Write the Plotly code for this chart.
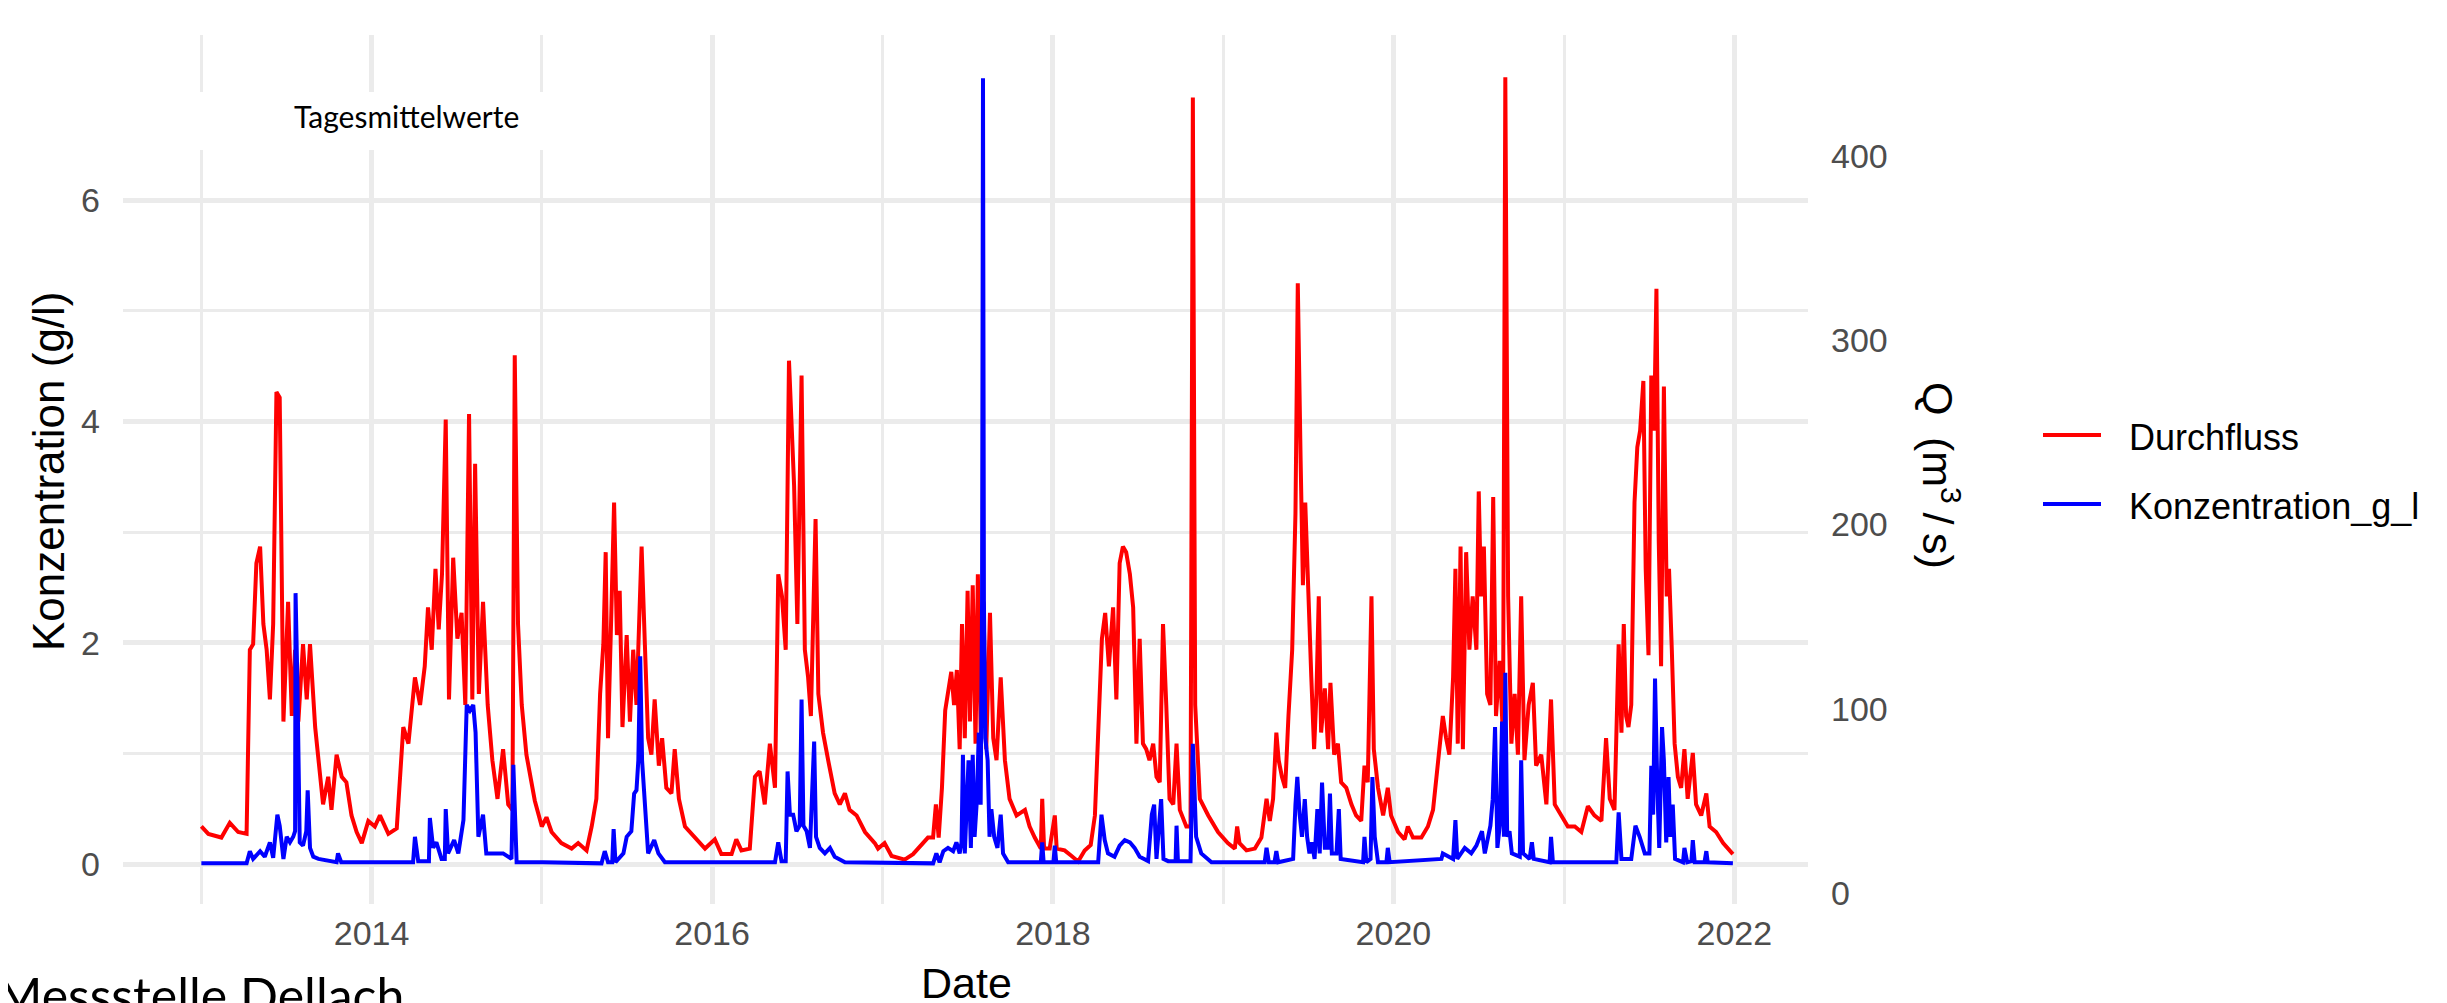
import pandas as pd
import plotly.graph_objects as go

# ---------------- data ----------------
START = "2013-01-01"

# Durchfluss Q (m3/s): day offset since 2013-01-01, value
q_day = [0, 15, 43, 61, 79, 97, 104, 111, 118, 126, 133, 140, 147, 154, 161, 168, 176, 186, 194, 201,
         208, 218, 226, 233, 244, 251, 261, 272, 279, 290, 301, 311, 322, 333, 344, 358, 372, 383, 401, 419,
         433, 444, 458, 469, 479, 486, 494, 502, 509, 516, 524, 531, 540, 549, 558, 566, 574, 581, 587, 595,
         604, 614, 624, 635, 647, 658, 667, 672, 679, 687, 697, 715,
         730, 740, 751, 772, 794, 808, 826, 837, 847, 855, 862, 867, 872, 880, 885, 891, 897, 903, 912, 919,
         926, 933, 944, 951, 958, 965, 972, 981, 988, 997, 1008, 1015, 1024, 1037, 1058, 1080, 1101, 1115,
         1137, 1147, 1158, 1176, 1187, 1197, 1208, 1219, 1230, 1237, 1245, 1253, 1260, 1265, 1271, 1278,
         1287, 1294, 1301, 1307, 1312, 1317, 1323, 1333, 1344, 1358, 1369, 1380, 1390, 1405, 1423, 1444,
         1451, 1465, 1480, 1494, 1508, 1526, 1544, 1558, 1569, 1575, 1581, 1588, 1595, 1603, 1608, 1614,
         1620, 1626, 1631, 1637, 1643, 1648, 1654, 1660, 1665, 1671, 1677, 1683, 1691, 1698, 1705, 1714,
         1723, 1733, 1748, 1766, 1776, 1787, 1800, 1803, 1807, 1819, 1830, 1834, 1851, 1866, 1880, 1894,
         1907, 1916, 1924, 1931, 1938, 1946, 1955, 1962, 1969, 1976, 1983, 1991, 1998, 2005, 2012, 2019,
         2026, 2033, 2041, 2048, 2055, 2062, 2069, 2076, 2084, 2091, 2098, 2112, 2121, 2126, 2131, 2141,
         2159, 2180, 2201, 2216, 2221, 2226, 2241, 2259, 2273, 2284, 2291, 2298, 2305, 2310, 2317, 2324,
         2331, 2339, 2346, 2351, 2357, 2362, 2367, 2373, 2380, 2386, 2391, 2396, 2401, 2409, 2416, 2421,
         2429, 2437, 2444, 2455, 2466, 2476, 2487, 2494, 2501, 2509, 2514, 2523, 2534, 2544, 2551, 2566,
         2580, 2587, 2598, 2616, 2630, 2641, 2651, 2662, 2669, 2676, 2684, 2689, 2694, 2700, 2705, 2712,
         2719, 2726, 2734, 2739, 2744, 2750, 2757, 2764, 2770, 2776, 2784, 2791, 2796, 2802, 2809, 2816,
         2823, 2830, 2837, 2846, 2855, 2862, 2873, 2884, 2894, 2902, 2916, 2930,
         2945, 2959, 2973, 2987, 3002, 3012, 3020, 3030, 3039, 3045, 3050, 3055, 3060, 3066, 3073, 3079,
         3085, 3092, 3097, 3103, 3109, 3115, 3120, 3125, 3130, 3136, 3142, 3147, 3153, 3159, 3166, 3173,
         3180, 3187, 3198, 3205, 3216, 3227, 3234, 3248, 3263, 3277, 3284]
q_val = [36, 32, 30, 38, 33, 32, 132, 135, 179, 188, 146, 132, 105, 146, 272, 269, 93, 158, 96, 132,
         93, 135, 105, 135, 90, 72, 48, 63, 45, 75, 63, 60, 42, 33, 27, 39, 36, 42, 32, 35,
         90, 81, 117, 102, 123, 155, 132, 176, 143, 173, 257, 105, 182, 138, 152, 102, 260, 105, 233, 108,
         158, 102, 72, 51, 78, 48, 45, 292, 146, 102, 75, 50,
         36, 41, 33, 27, 24, 27, 23, 36, 51, 108, 135, 185, 84, 161, 212, 140, 164, 90, 140, 93,
         132, 102, 188, 135, 84, 75, 105, 69, 84, 57, 54, 78, 51, 36, 30, 24, 29, 21,
         21, 29, 23, 24, 63, 66, 48, 81, 57, 173, 161, 132, 289, 251, 221, 146,
         281, 132, 117, 96, 143, 203, 108, 87, 72, 54, 48, 54, 45, 42, 33, 27,
         24, 27, 20, 19, 18, 21, 26, 30, 30, 48, 30, 57, 99, 114, 120, 102,
         121, 78, 146, 84, 164, 93, 167, 81, 173, 87, 158, 78, 152, 84, 72, 117,
         72, 51, 42, 45, 36, 30, 24, 51, 24, 24, 42, 24, 23, 20, 17, 23,
         26, 42, 87, 138, 152, 123, 155, 105, 179, 188, 185, 173, 155, 81, 138, 81,
         78, 72, 81, 63, 60, 146, 102, 51, 48, 81, 45, 36, 36, 432, 102, 51,
         42, 33, 27, 24, 36, 27, 23, 24, 30, 51, 39, 51, 87, 72, 63, 57,
         96, 132, 206, 331, 236, 167, 212, 161, 117, 78, 108, 161, 87, 111, 78, 114,
         75, 81, 60, 57, 48, 42, 39, 69, 60, 161, 78, 57, 42, 57, 42, 33,
         29, 36, 30, 30, 36, 45, 72, 96, 84, 75, 117, 176, 81, 188, 78, 185,
         132, 161, 132, 218, 161, 188, 108, 102, 215, 96, 126, 84, 443, 161, 81, 108,
         75, 161, 72, 102, 114, 69, 75, 48, 105, 48, 42, 36,
         36, 33, 47, 42, 39, 84, 51, 45, 135, 87, 146, 96, 90, 102, 212, 242,
         251, 278, 176, 129, 281, 251, 328, 191, 123, 275, 161, 176, 132, 81, 63, 57,
         78, 51, 76, 48, 42, 54, 36, 33, 27, 23, 21]

# Konzentration (g/l): day offset since 2013-01-01, value
c_day = [0, 97, 104, 111, 126, 136, 147, 154, 163, 168, 176, 183, 190, 197, 201, 202, 206, 211, 218, 225,
         228, 233, 240, 251, 290, 293, 300, 454, 458, 465, 488, 490, 497, 504, 515, 522, 524, 529, 542, 551,
         562, 569, 576, 583, 588, 594, 604, 611, 647, 665, 669, 676, 733,
         858, 865, 872, 881, 884, 888, 905, 912, 922, 928, 933, 937, 941, 945, 951, 958, 971, 980, 994,
         1230, 1237, 1244, 1253, 1257, 1262, 1269, 1276, 1283, 1287, 1291, 1298, 1305, 1310, 1314, 1318,
         1326, 1337, 1348, 1358, 1380,
         1569, 1576, 1583, 1591, 1601, 1612, 1619, 1626, 1630, 1633, 1637, 1641, 1645, 1650, 1654, 1658,
         1663, 1667, 1671, 1674, 1676, 1678, 1681, 1686, 1690, 1694, 1700, 1707, 1714, 1719, 1730, 1800,
         1803, 1806, 1827, 1830, 1833, 1923, 1930, 1937, 1944, 1958, 1969, 1980, 1991, 2001, 2012, 2030,
         2038, 2043, 2048, 2058, 2063, 2073, 2089, 2091, 2094, 2121, 2126, 2133, 2144, 2166,
         2280, 2284, 2289, 2301, 2305, 2309, 2341, 2346, 2350, 2355, 2360, 2366, 2371, 2376, 2381, 2387,
         2393, 2398, 2403, 2409, 2416, 2420, 2424, 2434, 2439, 2443, 2491, 2494, 2498, 2507, 2511, 2516,
         2523, 2541, 2544, 2548, 2659, 2662, 2684, 2689, 2693, 2709, 2723, 2734, 2741, 2746, 2752, 2764,
         2769, 2774, 2779, 2784, 2789, 2793, 2796, 2800, 2805, 2810, 2827, 2830, 2834, 2848, 2853, 2857,
         2891, 2894, 2898,
         3034, 3039, 3045, 3066, 3075, 3084, 3095, 3105, 3109, 3113, 3117, 3122, 3126, 3132, 3136, 3141,
         3146, 3150, 3155, 3160, 3177, 3180, 3186, 3195, 3198, 3202, 3223, 3227, 3230, 3284]
c_val = [0.01, 0.01, 0.12, 0.05, 0.12, 0.07, 0.2, 0.06, 0.45, 0.35, 0.05, 0.25, 0.2, 0.25, 0.3, 2.45, 1.63, 0.2, 0.17, 0.3,
         0.67, 0.15, 0.07, 0.05, 0.02, 0.1, 0.02, 0.02, 0.25, 0.03, 0.03, 0.42, 0.15, 0.2, 0.05, 0.05, 0.5, 0.1, 0.22, 0.1,
         0.4, 1.44, 1.39, 1.44, 1.19, 0.25, 0.45, 0.1, 0.1, 0.05, 0.9, 0.02, 0.02,
         0.01, 0.12, 0.02, 0.02, 0.32, 0.02, 0.1, 0.25, 0.3, 0.64, 0.67, 0.94, 1.88, 0.94, 0.54, 0.1, 0.22, 0.1, 0.02,
         0.02, 0.2, 0.03, 0.03, 0.84, 0.45, 0.45, 0.3, 0.35, 1.49, 0.35, 0.3, 0.15, 0.69, 1.11, 0.25,
         0.15, 0.1, 0.15, 0.07, 0.02,
         0.01, 0.1, 0.02, 0.12, 0.15, 0.12, 0.2, 0.1, 0.2, 0.99, 0.1, 0.54, 0.94, 0.15, 0.99, 0.25,
         0.59, 1.19, 0.54, 2.38, 7.1, 2.38, 1.14, 0.94, 0.25, 0.5, 0.25, 0.15, 0.45, 0.1, 0.02, 0.02,
         0.2, 0.02, 0.02, 0.17, 0.02, 0.02, 0.45, 0.22, 0.1, 0.07, 0.17, 0.22, 0.2, 0.15, 0.07, 0.03,
         0.45, 0.54, 0.05, 0.59, 0.05, 0.03, 0.03, 0.35, 0.03, 0.03, 1.09, 0.25, 0.1, 0.02,
         0.02, 0.15, 0.02, 0.02, 0.12, 0.02, 0.05, 0.54, 0.79, 0.45, 0.25, 0.59, 0.25, 0.1, 0.2, 0.05,
         0.5, 0.1, 0.74, 0.15, 0.15, 0.64, 0.1, 0.1, 0.5, 0.05, 0.02, 0.25, 0.02, 0.05, 0.79, 0.25,
         0.02, 0.02, 0.15, 0.02, 0.05, 0.1, 0.05, 0.4, 0.05, 0.15, 0.1, 0.17, 0.25, 0.3, 0.1, 0.35,
         0.59, 1.24, 0.15, 0.35, 1.29, 0.25, 1.73, 0.25, 0.3, 0.1, 0.07, 0.94, 0.1, 0.05, 0.2, 0.05,
         0.02, 0.25, 0.02,
         0.02, 0.47, 0.05, 0.05, 0.35, 0.25, 0.1, 0.1, 0.89, 0.45, 1.68, 0.69, 0.15, 1.24, 0.94, 0.2,
         0.79, 0.25, 0.54, 0.05, 0.02, 0.15, 0.02, 0.03, 0.22, 0.02, 0.02, 0.12, 0.02, 0.01]

year_ticks = ["2014", "2016", "2018", "2020", "2022"]
year_minor = ["2013", "2015", "2017", "2019", "2021"]
c_ticks = [0, 2, 4, 6]
c_minor = [1, 3, 5]
q_ticks = [0, 100, 200, 300, 400]
series_names = ["Durchfluss", "Konzentration_g_l"]
series_colors = ["#FF0000", "#0000FF"]

# ---------------- layout helpers (pixel geometry) ----------------
W, H = 2447, 1003
PL, PR, PT, PB = 115, 1800, 27, 896   # plot area in pixels


def px(xp):
    return (xp - PL) / (PR - PL)


def py(yp):
    return (PB - yp) / (PB - PT)


start = pd.Timestamp(START)
q_dates = start + pd.to_timedelta(q_day, unit="D")
c_dates = start + pd.to_timedelta(c_day, unit="D")

AX_FONT = "Liberation Sans, Arial, sans-serif"
CAL_FONT = "Lato, Carlito, Calibri, sans-serif"
GRID = "#EBEBEB"

fig = go.Figure()
fig.add_trace(go.Scatter(x=q_dates, y=q_val, mode="lines", name=series_names[0],
                         line=dict(color=series_colors[0], width=4), yaxis="y"))
fig.add_trace(go.Scatter(x=c_dates, y=c_val, mode="lines", name=series_names[1],
                         line=dict(color=series_colors[1], width=4), yaxis="y2"))

fig.update_layout(
    width=W, height=H, autosize=False,
    margin=dict(l=PL, r=W - PR, t=PT, b=H - PB, pad=0),
    paper_bgcolor="white", plot_bgcolor="white",
    font=dict(family=AX_FONT, size=34, color="#4D4D4D"),
    showlegend=False,
    xaxis=dict(
        type="date", range=["2012-07-17", "2022-06-08"],
        tickvals=[y + "-01-01" for y in year_ticks], ticktext=year_ticks,
        showgrid=True, gridcolor=GRID, gridwidth=4.5,
        minor=dict(tickvals=[y + "-01-01" for y in year_minor], showgrid=True,
                   gridcolor=GRID, gridwidth=3),
        zeroline=False, showline=False, ticks="", ticklabelstandoff=6,
        tickfont=dict(family=AX_FONT, size=34, color="#4D4D4D"),
    ),
    yaxis=dict(  # Q axis (right)
        side="right", range=[-6.1, 465.9], tickvals=q_ticks,
        showgrid=False, zeroline=False, showline=False, ticks="",
        ticklabelstandoff=22, tickfont=dict(family=AX_FONT, size=34, color="#4D4D4D"),
    ),
    yaxis2=dict(  # concentration axis (left)
        overlaying="y", side="left", range=[-0.357, 7.49], tickvals=c_ticks,
        showgrid=True, gridcolor=GRID, gridwidth=4.5,
        minor=dict(tickvals=c_minor, showgrid=True, gridcolor=GRID, gridwidth=3),
        zeroline=False, showline=False, ticks="",
        ticklabelstandoff=22, tickfont=dict(family=AX_FONT, size=34, color="#4D4D4D"),
    ),
)

annotations = [
    dict(text="Konzentration (g/l)", x=px(40), y=py(463), textangle=-90,
         font=dict(family=AX_FONT, size=44, color="black")),
    dict(text="Q\u2002(m<sup>3</sup>\u2009/\u2009s)", x=px(1933), y=py(468), textangle=90,
         font=dict(family=AX_FONT, size=43, color="black")),
    dict(text="Date", x=px(959), y=py(975),
         font=dict(family=AX_FONT, size=43, color="black")),
    dict(text="Tagesmittelwerte", x=px(398), y=py(108),
         font=dict(family=CAL_FONT, size=30, color="black")),
    dict(text="Messstelle Dellach", x=px(-14), y=py(955), xanchor="left", yanchor="top",
         font=dict(family=CAL_FONT, size=50, color="black")),
]

# legend drawn by hand (ggplot style: long key line, text to its right)
legend_rows_y = [429, 498]
for name, col, ly in zip(series_names, series_colors, legend_rows_y):
    fig.add_shape(type="line", xref="paper", yref="paper",
                  x0=px(2035), x1=px(2093), y0=py(ly - 2), y1=py(ly - 2),
                  line=dict(color=col, width=4))
    annotations.append(dict(text=name, x=px(2119), y=py(ly), xanchor="left",
                            font=dict(family=AX_FONT, size=36, color="black")))

for a in annotations:
    a.setdefault("xanchor", "center")
    a.setdefault("yanchor", "middle")
    a.update(xref="paper", yref="paper", showarrow=False)
fig.update_layout(annotations=annotations)

fig.add_shape(type="rect", xref="paper", yref="paper",
              x0=px(188), x1=px(536), y0=py(142), y1=py(84),
              fillcolor="white", line=dict(width=0), layer="above")

fig.write_html("out.html")
